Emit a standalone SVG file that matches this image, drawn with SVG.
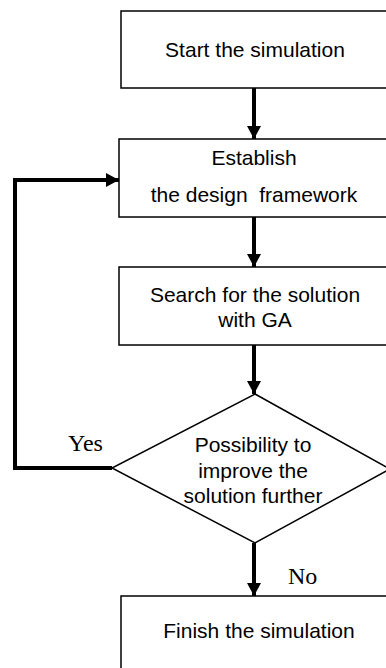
<svg xmlns="http://www.w3.org/2000/svg" width="386" height="668" viewBox="0 0 386 668">
<defs>
<style>
.box{fill:#fff;stroke:#000;stroke-width:1.5}
.t{font-family:"Liberation Sans",Arial,sans-serif;font-size:21px;fill:#000;text-anchor:middle}
.s{font-family:"Liberation Serif","Times New Roman",serif;font-size:24px;fill:#000}
.c{fill:none;stroke:#000;stroke-width:4}
</style>
<marker id="ah" markerWidth="14" markerHeight="14" refX="13" refY="7" orient="auto" markerUnits="userSpaceOnUse">
<path d="M0,0 L13,7 L0,14 Z" fill="#000"/>
</marker>
</defs>
<rect width="386" height="668" fill="#fff"/>
<g id="connectors">
<line class="c" x1="254" y1="88" x2="254" y2="139" marker-end="url(#ah)"/>
<line class="c" x1="254" y1="217" x2="254" y2="267" marker-end="url(#ah)"/>
<line class="c" x1="254" y1="345" x2="254" y2="394" marker-end="url(#ah)"/>
<line class="c" x1="254" y1="543" x2="254" y2="596" marker-end="url(#ah)"/>
<polyline class="c" points="112,468 15,468 15,180 119,180" marker-end="url(#ah)"/>
<text class="s" x="68" y="451">Yes</text>
<text class="s" x="288" y="584">No</text>
</g>
<g id="start">
<rect class="box" x="121" y="11" width="280" height="77"/>
<text class="t" x="255" y="57">Start the simulation</text>
</g>
<g id="establish">
<rect class="box" x="119" y="139" width="282" height="78"/>
<text class="t" x="254" y="165">Establish</text>
<text class="t" x="254" y="202" xml:space="preserve">the design  framework</text>
</g>
<g id="search">
<rect class="box" x="119" y="267" width="282" height="78"/>
<text class="t" x="255" y="302">Search for the solution</text>
<text class="t" x="255" y="327">with GA</text>
</g>
<g id="decision">
<polygon class="box" points="255,394 390,469 255,543 112,468"/>
<text class="t" x="253" y="452">Possibility to</text>
<text class="t" x="253" y="478">improve the</text>
<text class="t" x="253" y="503">solution further</text>
</g>
<g id="finish">
<rect class="box" x="121" y="596" width="280" height="90"/>
<text class="t" x="259" y="638">Finish the simulation</text>
</g>
</svg>
